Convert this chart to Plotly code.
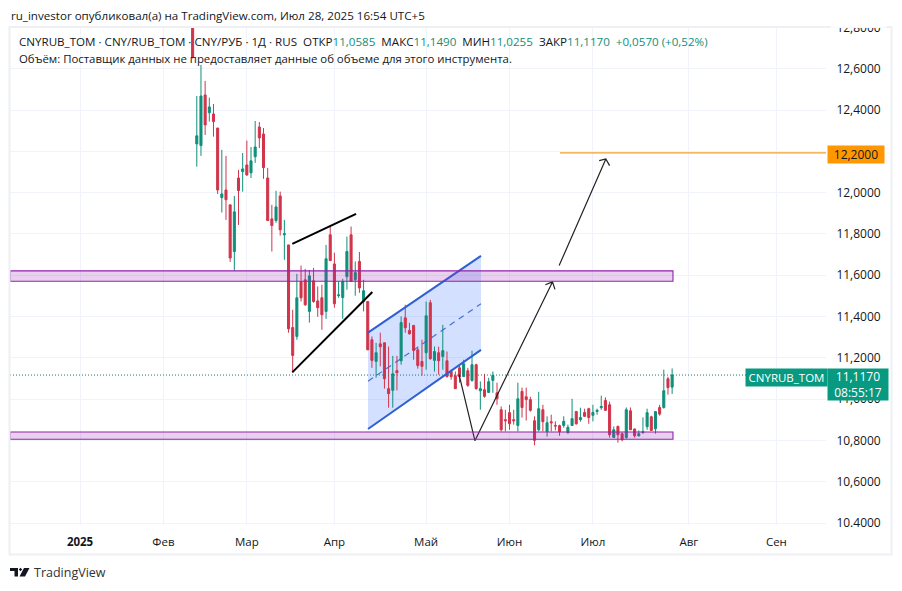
import plotly.graph_objects as go

# candle values, one list per field (first visible candle is cut by the top)
opens = [12.95, 12.236, 12.228, 12.473, 12.387, 12.381, 12.313, 11.976, 12.013, 11.941,
         11.715, 12.071, 12.102, 12.134, 12.096, 12.174, 12.318, 12.284, 12.071, 11.873,
         11.865, 11.984, 11.796, 11.747, 11.347, 11.304, 11.568, 11.578, 11.425, 11.573,
         11.476, 11.491, 11.425, 11.796, 11.655, 11.501, 11.492, 11.593, 11.796, 11.578,
         11.667, 11.473, 11.473, 11.288, 11.183, 11.268, 11.273, 11.051, 11.043, 11.138,
         11.186, 11.394, 11.333, 11.357, 11.239, 11.183, 11.225, 11.467, 11.188, 11.225,
         11.207, 11.186, 11.134, 11.114, 11.152, 11.110, 11.138, 11.091, 11.167, 11.041,
         11.046, 11.033, 11.091, 11.031, 10.949, 10.901, 10.935, 10.901, 10.873, 11.038,
         11.012, 10.998, 10.896, 10.852, 10.949, 10.843, 10.891, 10.873, 10.872, 10.873,
         10.838, 10.873, 10.941, 10.901, 10.936, 10.954, 10.922, 10.941, 10.959, 10.994,
         10.973, 10.815, 10.868, 10.833, 10.814, 10.944, 10.856, 10.823, 10.838, 10.867,
         10.915, 10.857, 10.960, 10.960, 11.099, 11.0585]
highs = [13.0, 12.468, 12.618, 12.541, 12.460, 12.429, 12.313, 12.207, 12.178, 11.941,
         11.984, 12.110, 12.192, 12.252, 12.221, 12.347, 12.342, 12.313, 12.120, 11.941,
         12.009, 12.005, 11.868, 11.747, 11.433, 11.607, 11.647, 11.631, 11.626, 11.636,
         11.546, 11.554, 11.747, 11.839, 11.709, 11.570, 11.583, 11.787, 11.836, 11.667,
         11.713, 11.578, 11.473, 11.304, 11.273, 11.322, 11.275, 11.255, 11.210, 11.210,
         11.401, 11.457, 11.370, 11.360, 11.249, 11.288, 11.473, 11.481, 11.255, 11.254,
         11.360, 11.231, 11.143, 11.134, 11.167, 11.191, 11.152, 11.235, 11.172, 11.086,
         11.123, 11.104, 11.134, 11.080, 10.965, 10.949, 10.973, 10.949, 11.080, 11.056,
         11.056, 11.012, 10.917, 11.036, 10.973, 10.917, 10.925, 10.893, 10.877, 10.917,
         10.877, 11.002, 10.941, 10.959, 10.954, 10.959, 10.973, 10.954, 11.017, 11.009,
         10.988, 10.868, 10.873, 10.839, 10.960, 10.960, 10.857, 10.849, 10.912, 10.954,
         10.920, 10.941, 10.973, 11.143, 11.109, 11.149]
lows = [12.65, 12.126, 12.178, 12.279, 12.344, 12.271, 11.994, 11.904, 11.868, 11.665,
        11.622, 11.844, 12.005, 12.081, 12.071, 12.144, 12.216, 12.067, 11.863, 11.715,
        11.854, 11.792, 11.675, 11.322, 11.130, 11.288, 11.473, 11.452, 11.371, 11.467,
        11.399, 11.336, 11.389, 11.671, 11.443, 11.491, 11.389, 11.530, 11.570, 11.501,
        11.515, 11.425, 11.239, 11.152, 11.104, 11.159, 11.051, 10.959, 10.959, 11.043,
        11.167, 11.322, 11.312, 11.191, 11.148, 11.114, 11.143, 11.191, 11.134, 11.119,
        11.143, 11.104, 11.094, 11.051, 11.080, 11.109, 11.060, 11.085, 11.046, 10.949,
        11.007, 11.031, 11.031, 10.973, 10.844, 10.844, 10.852, 10.877, 10.844, 10.911,
        10.897, 10.940, 10.777, 10.844, 10.844, 10.819, 10.844, 10.849, 10.823, 10.862,
        10.833, 10.872, 10.877, 10.891, 10.915, 10.881, 10.893, 10.925, 10.949, 10.944,
        10.814, 10.814, 10.790, 10.796, 10.809, 10.852, 10.814, 10.819, 10.833, 10.852,
        10.848, 10.833, 10.920, 10.954, 11.022, 11.0255]
closes = [12.657, 12.275, 12.468, 12.328, 12.415, 12.344, 12.013, 11.994, 11.966, 11.684,
          11.907, 12.010, 12.115, 12.086, 12.154, 12.221, 12.265, 12.121, 11.865, 11.841,
          11.931, 11.820, 11.801, 11.341, 11.212, 11.491, 11.491, 11.457, 11.597, 11.473,
          11.443, 11.409, 11.680, 11.671, 11.462, 11.505, 11.570, 11.715, 11.570, 11.613,
          11.539, 11.525, 11.239, 11.188, 11.225, 11.254, 11.099, 11.027, 11.123, 11.128,
          11.371, 11.346, 11.317, 11.236, 11.163, 11.159, 11.404, 11.196, 11.231, 11.186,
          11.235, 11.110, 11.109, 11.051, 11.109, 11.172, 11.067, 11.167, 11.051, 11.051,
          11.014, 11.085, 11.115, 11.002, 10.852, 10.896, 10.881, 10.896, 11.002, 10.960,
          10.998, 10.946, 10.801, 10.954, 10.891, 10.886, 10.886, 10.870, 10.843, 10.893,
          10.864, 10.906, 10.881, 10.911, 10.917, 10.911, 10.936, 10.946, 10.965, 10.946,
          10.828, 10.852, 10.828, 10.804, 10.949, 10.852, 10.823, 10.833, 10.843, 10.935,
          10.849, 10.940, 10.928, 11.041, 11.056, 11.117]
first_day = 27
days = list(range(first_day, first_day + len(opens)))

price_ticks = [10.4, 10.6, 10.8, 11.0, 11.2, 11.4, 11.6, 11.8, 12.0, 12.2, 12.4, 12.6, 12.8]
price_labels = ['10.4000', '10,6000', '10,8000', '11,0000', '11,2000', '11,4000', '11,6000',
                '11,8000', '12,0000', '', '12,4000', '12,6000', '12,8000']
month_ticks = [0, 20, 40, 61, 83, 103, 123, 146, 167]
month_labels = ['<b>2025</b>', 'Фев', 'Мар', 'Апр', 'Май', 'Июн', 'Июл', 'Авг', 'Сен']

# drawings, in chart units (day index, price)
band_end = 142.2
band_top = [11.6215, 10.841]
band_bottom = [11.571, 10.806]
channel_x = [69.06, 96.16]
channel_upper = [11.322, 11.694]
channel_mid = [11.087, 11.462]
channel_lower = [10.856, 11.239]
wedge_up_x = [50.9, 66.2]
wedge_up_y = [11.752, 11.897]
wedge_down_x = [50.9, 70.1]
wedge_down_y = [11.130, 11.519]
arrow1_x = [90.9, 94.7, 113.3, 111.6, 113.3, 113.9]
arrow1_y = [11.119, 10.799, 11.568, 11.554, 11.568, 11.532]
arrow2_x = [114.9, 126.1, 124.5, 126.1, 127.0]
arrow2_y = [11.647, 12.163, 12.155, 12.163, 12.131]
target_x = 115.1
target_price = 12.193
last_price = 11.117

GREEN = '#0f8f7b'
RED = '#d1344b'
PURPLE = '#8e24aa'
BLUE = '#2f5fd3'
ORANGE = '#f0a02c'
TEXT = '#131722'
FONT = 'Open Sans'

# plot area in window pixels
L, R, T, B = 10, 826, 27, 525.5


def px(x):
    return (x - L) / (R - L)


def py(y):
    return (B - y) / (B - T)


def label(x, y, text, size=12, color=TEXT, anchor='left', **kw):
    return dict(xref='paper', yref='paper', x=px(x), y=py(y), text=text, showarrow=False,
                xanchor=anchor, yanchor='middle', align='left', borderpad=0,
                font=dict(family=FONT, size=size, color=color), **kw)


def box(x0, y0, x1, y1, text, color, size=12):
    return dict(xref='paper', yref='paper', x=px(x0), y=py(y0), text=text, showarrow=False,
                xanchor='left', yanchor='top', align='center', valign='middle',
                width=x1 - x0, height=y1 - y0, bgcolor=color, borderpad=0,
                font=dict(family=FONT, size=size, color='white'))


fig = go.Figure()
fig.add_trace(go.Candlestick(x=days, open=opens, high=highs, low=lows, close=closes,
                             whiskerwidth=0,
                             increasing=dict(line=dict(color=GREEN, width=1), fillcolor=GREEN),
                             decreasing=dict(line=dict(color=RED, width=1), fillcolor=RED),
                             hoverinfo='skip'))
fig.add_trace(go.Scatter(x=wedge_up_x, y=wedge_up_y, mode='lines', line=dict(color='black', width=2), hoverinfo='skip'))
fig.add_trace(go.Scatter(x=wedge_down_x, y=wedge_down_y, mode='lines', line=dict(color='black', width=2), hoverinfo='skip'))
fig.add_trace(go.Scatter(x=channel_x, y=channel_upper, mode='lines', line=dict(color=BLUE, width=2), hoverinfo='skip'))
fig.add_trace(go.Scatter(x=channel_x, y=channel_mid, mode='lines', line=dict(color=BLUE, width=1.2, dash='6px,5px'), opacity=0.85, hoverinfo='skip'))
fig.add_trace(go.Scatter(x=channel_x, y=channel_lower, mode='lines', line=dict(color=BLUE, width=2), hoverinfo='skip'))
fig.add_trace(go.Scatter(x=arrow1_x, y=arrow1_y, mode='lines', line=dict(color='#222222', width=1.2), hoverinfo='skip'))
fig.add_trace(go.Scatter(x=arrow2_x, y=arrow2_y, mode='lines', line=dict(color='#222222', width=1.2), hoverinfo='skip'))

shapes = []
# channel fill, above the grid but under the candles
shapes.append(dict(type='path', layer='between', line=dict(width=0), fillcolor='rgba(41,98,255,0.2)',
                   path=f'M {channel_x[0]} {channel_upper[0]} L {channel_x[1]} {channel_upper[1]} '
                        f'L {channel_x[1]} {channel_lower[1]} L {channel_x[0]} {channel_lower[0]} Z'))
# support / resistance bands
for top, bottom in zip(band_top, band_bottom):
    shapes.append(dict(type='rect', xref='paper', x0=0, x1=px(80 + band_end * 4.17), y0=bottom, y1=top,
                       line=dict(color=PURPLE, width=1.1), fillcolor='rgba(156,39,176,0.22)'))
# target level and last price line
shapes.append(dict(type='line', x0=target_x, xref='x', x1=178.9, y0=target_price, y1=target_price,
                   line=dict(color=ORANGE, width=1.3)))
shapes.append(dict(type='line', xref='paper', x0=0, x1=1, y0=last_price, y1=last_price,
                   line=dict(color='#177f6e', width=1, dash='1px,2px')))
# frame round the chart
shapes.append(dict(type='rect', xref='paper', yref='paper', x0=px(9.5), x1=px(891.5), y0=py(555), y1=py(27),
                   line=dict(color='#eef0f3', width=2)))
# TradingView logo
logo = (f'M {px(10)} {py(568.5)} L {px(18)} {py(568.5)} L {px(18)} {py(577)} L {px(14.5)} {py(577)} '
        f'L {px(14.5)} {py(571.5)} L {px(10)} {py(571.5)} Z '
        f'M {px(24)} {py(568.5)} L {px(29.5)} {py(568.5)} L {px(25)} {py(577)} L {px(19.5)} {py(577)} Z '
        f'M {px(18.8)} {py(570)} L {px(20.5)} {py(568.3)} L {px(22.2)} {py(570)} L {px(20.5)} {py(571.7)} Z')
shapes.append(dict(type='path', xref='paper', yref='paper', path=logo, fillcolor='#131722', line=dict(width=0)))

g = f'<span style="color:{GREEN}">'
nb = '\u00a0\u00a0'
legend_line = (f'CNYRUB_TOM · CNY/RUB_TOM · CNY/РУБ · 1Д · RUS{nb}ОТКР{g}11,0585</span>{nb}МАКС{g}11,1490</span>'
               f'{nb}МИН{g}11,0255</span>{nb}ЗАКР{g}11,1170</span>{nb}{g}+0,0570 (+0,52%)</span>')

annotations = [
    label(10, 15, 'ru_investor опубликовал(а) на TradingView.com, Июл 28, 2025 16:54 UTC+5', size=11.6),
    label(18, 42, legend_line, size=11.6),
    label(18, 59, 'Объём: Поставщик данных не предоставляет данные об объеме для этого инструмента.', size=11.4),
    label(33, 573, 'TradingView', size=12.5, color='#333333'),
    box(827, 145, 883, 162, '<span style="color:#131722">12,2000</span>', '#ff9800'),
    box(745, 368, 826, 385, 'CNYRUB_TOM', '#089981', size=11.5),
    box(827, 368, 887, 399, '11,1170<br>08:55:17', '#089981'),
    box(830, 14, 885, 26, ' ', 'white'),
]

fig.update_layout(width=902, height=591, autosize=False, showlegend=False,
                  paper_bgcolor='white', plot_bgcolor='white', hovermode=False,
                  margin=dict(l=L, r=902 - R, t=T, b=591 - B, pad=0),
                  font=dict(family=FONT, size=12, color=TEXT),
                  shapes=shapes, annotations=annotations)
fig.update_xaxes(range=[-16.8, 178.9], tickvals=month_ticks, ticktext=month_labels,
                 tickfont=dict(size=11.5),
                 showgrid=True, gridcolor='#f0f3fa', gridwidth=1, zeroline=False, showline=False,
                 ticks='outside', ticklen=6, tickcolor='rgba(0,0,0,0)',
                 rangeslider_visible=False, fixedrange=True)
fig.update_yaxes(side='right', range=[10.391, 12.802], tickvals=price_ticks, ticktext=price_labels,
                 showgrid=True, gridcolor='#f0f3fa', gridwidth=1, zeroline=False, showline=False,
                 ticks='outside', ticklen=7, tickcolor='rgba(0,0,0,0)', fixedrange=True)

fig.write_html("out.html", config={'displayModeBar': False},
               post_script="document.body.style.margin='0';")
